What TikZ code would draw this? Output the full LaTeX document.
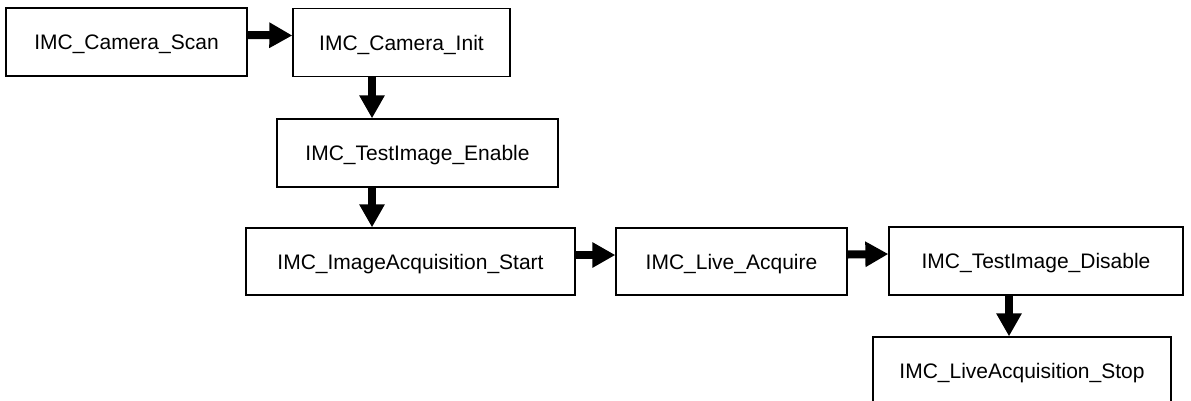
\documentclass[tikz,border=0pt]{standalone}
\usepackage{fontspec}
\setmainfont{Liberation Sans}
\usetikzlibrary{arrows.meta}
\begin{document}
\begin{tikzpicture}[x=1pt,y=-1pt,
  box/.style={draw=black, line width=1.3pt, fill=white, inner sep=0pt,
    minimum height=68pt, text height=15.2pt, text depth=0pt,
    font=\fontsize{21}{25}\selectfont},
  arr/.style={line width=8pt, -{Triangle[length=23pt,width=24pt]}}]
\useasboundingbox (0,0) rectangle (1191,400);
\node[box, minimum width=241pt] (b1) at (126.5,42) {IMC\_Camera\_Scan};
\node[box, minimum width=217pt] (b2) at (401.5,42.5) {IMC\_Camera\_Init};
\node[box, minimum width=281pt] (b3) at (417.5,153) {IMC\_TestImage\_Enable};
\node[box, minimum width=329pt, minimum height=67pt] (b4) at (410.5,261.5) {IMC\_ImageAcquisition\_Start};
\node[box, minimum width=231pt, minimum height=67pt] (b5) at (731.5,261.5) {IMC\_Live\_Acquire};
\node[box, minimum width=294pt] (b6) at (1036,261) {IMC\_TestImage\_Disable};
\node[box, minimum width=298pt] (b7) at (1022,371) {IMC\_LiveAcquisition\_Stop};
\coordinate (v1) at (372,0);
\coordinate (v2) at (1009,0);
\draw[arr] ([yshift=7pt]b1.east) -- ([yshift=7pt]b2.west);
\draw[arr] (b2.south -| v1) -- (b3.north -| v1);
\draw[arr] (b3.south -| v1) -- (b4.north -| v1);
\draw[arr] ([yshift=6.5pt]b4.east) -- ([yshift=6.5pt]b5.west);
\draw[arr] ([yshift=7pt]b5.east) -- ([yshift=7pt]b6.west);
\draw[arr] (b6.south -| v2) -- (b7.north -| v2);
\end{tikzpicture}
\end{document}
